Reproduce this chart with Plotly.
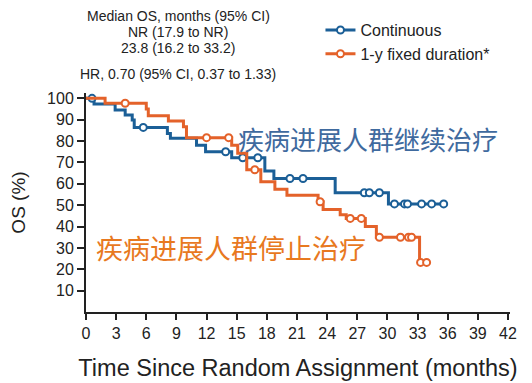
import plotly.graph_objects as go
import numpy as np

# ---- data ----
cont_times = [0, 0.8, 2.9, 3.9, 4.6, 4.8, 8.1, 8.4, 11.0, 11.9, 14.5, 17.8, 18.7, 24.8, 30.1, 35.7]
cont_surv = [100, 97.4, 94.6, 92.2, 89.9, 86.4, 83.6, 81.3, 78.1, 75.0, 72.2, 66.0, 62.5, 55.8, 50.6, 50.6]
cont_cens = [0.6, 5.7, 13.9, 15.6, 17.1, 20.3, 21.6, 27.7, 28.2, 29.2, 30.7, 31.7, 32.0, 33.4, 34.4, 35.6]

fixed_times = [0, 1.9, 6.0, 6.2, 8.2, 9.7, 10.0, 14.5, 15.1, 16.0, 17.4, 18.8, 20.0, 23.1, 23.6, 25.3, 25.9, 27.8, 28.9, 33.2, 34.0]
fixed_surv = [100, 97.7, 95.0, 91.9, 89.4, 86.7, 81.6, 78.1, 74.3, 66.6, 61.0, 57.5, 54.7, 51.6, 48.0, 45.5, 43.8, 40.0, 35.0, 23.2, 23.2]
fixed_cens = [3.9, 12.0, 14.2, 16.8, 23.3, 26.3, 27.4, 29.2, 31.3, 32.1, 32.4, 33.3, 33.9]

x_ticks = list(range(0, 43, 3))
y_ticks = list(range(10, 101, 10))

BLUE = "#1b5f97"
ORANGE = "#e4622a"


def step_value(times, surv, t):
    idx = np.searchsorted(np.array(times), t, side="right") - 1
    return surv[max(idx, 0)]


fig = go.Figure()

for name, times, surv, cens, col in [
    ("Continuous", cont_times, cont_surv, cont_cens, BLUE),
    ("1-y fixed duration*", fixed_times, fixed_surv, fixed_cens, ORANGE),
]:
    fig.add_trace(go.Scatter(x=times, y=surv, mode="lines", line=dict(color=col, width=3, shape="hv"),
                             showlegend=False, hoverinfo="skip"))
    fig.add_trace(go.Scatter(x=cens, y=[step_value(times, surv, t) for t in cens], mode="markers",
                             marker=dict(symbol="circle", size=7, color="white", line=dict(color=col, width=2)),
                             showlegend=False))
    fig.add_trace(go.Scatter(x=[None], y=[None], mode="lines+markers", name=name,
                             line=dict(color=col, width=3),
                             marker=dict(symbol="circle", size=7, color="white", line=dict(color=col, width=2))))

font_main = "Liberation Sans, Arial, sans-serif"

# page has an 8px body margin, so the figure is drawn at (8, 8)
fig.update_layout(
    width=524, height=375,
    margin=dict(l=78, r=22, t=85, b=71, autoexpand=False),
    plot_bgcolor="white", paper_bgcolor="white",
    font=dict(family=font_main, color="#222222", size=14),
    legend=dict(x=0.553, y=1.365, xanchor="left", yanchor="top", bgcolor="rgba(0,0,0,0)",
                font=dict(size=16, family=font_main), itemwidth=30, tracegroupgap=0),
    xaxis=dict(range=[0, 42.2], tickvals=x_ticks, ticks="outside", ticklen=6, tickwidth=1.5,
               tickcolor="#222", showline=True, linecolor="#222", linewidth=2, showgrid=False,
               zeroline=False, tickfont=dict(size=16, family=font_main), automargin=False,
               title=dict(text="Time Since Random Assignment (months)", standoff=18,
                          font=dict(size=23.5, family=font_main))),
    yaxis=dict(range=[0, 102.5], tickvals=y_ticks, ticks="outside", ticklen=7, tickwidth=1.5,
               tickcolor="#222", showline=True, linecolor="#222", linewidth=2, showgrid=False,
               zeroline=False, tickfont=dict(size=16, family=font_main), automargin=False,
               title=dict(text="OS (%)", standoff=17, font=dict(size=19, family=font_main))),
)

ann = [
    ("Median OS, months (95% CI)", 178, 16.5),
    ("NR (17.9 to NR)", 178, 32),
    ("23.8 (16.2 to 33.2)", 178, 48),
    ("HR, 0.70 (95% CI, 0.37 to 1.33)", 178, 74),
]


def px2paper(px, py):
    return (px - 86) / 424, (312 - py) / 219


for txt, px, py in ann:
    xx, yy = px2paper(px, py)
    fig.add_annotation(text=txt, x=xx, y=yy, xref="paper", yref="paper", showarrow=False,
                       xanchor="center", yanchor="middle",
                       font=dict(size=14, family=font_main, color="#222"))

cjk = "Noto Sans CJK SC"
xx, yy = px2paper(236, 138)
fig.add_annotation(text="疾病进展人群继续治疗", x=xx, y=yy, xref="paper", yref="paper", showarrow=False,
                   xanchor="left", yanchor="middle", font=dict(size=26, family=cjk, color="#3f6a9e"))
xx, yy = px2paper(94, 247)
fig.add_annotation(text="疾病进展人群停止治疗", x=xx, y=yy, xref="paper", yref="paper", showarrow=False,
                   xanchor="left", yanchor="middle", font=dict(size=27, family=cjk, color="#e8791f"))

fig.write_html("out.html")
